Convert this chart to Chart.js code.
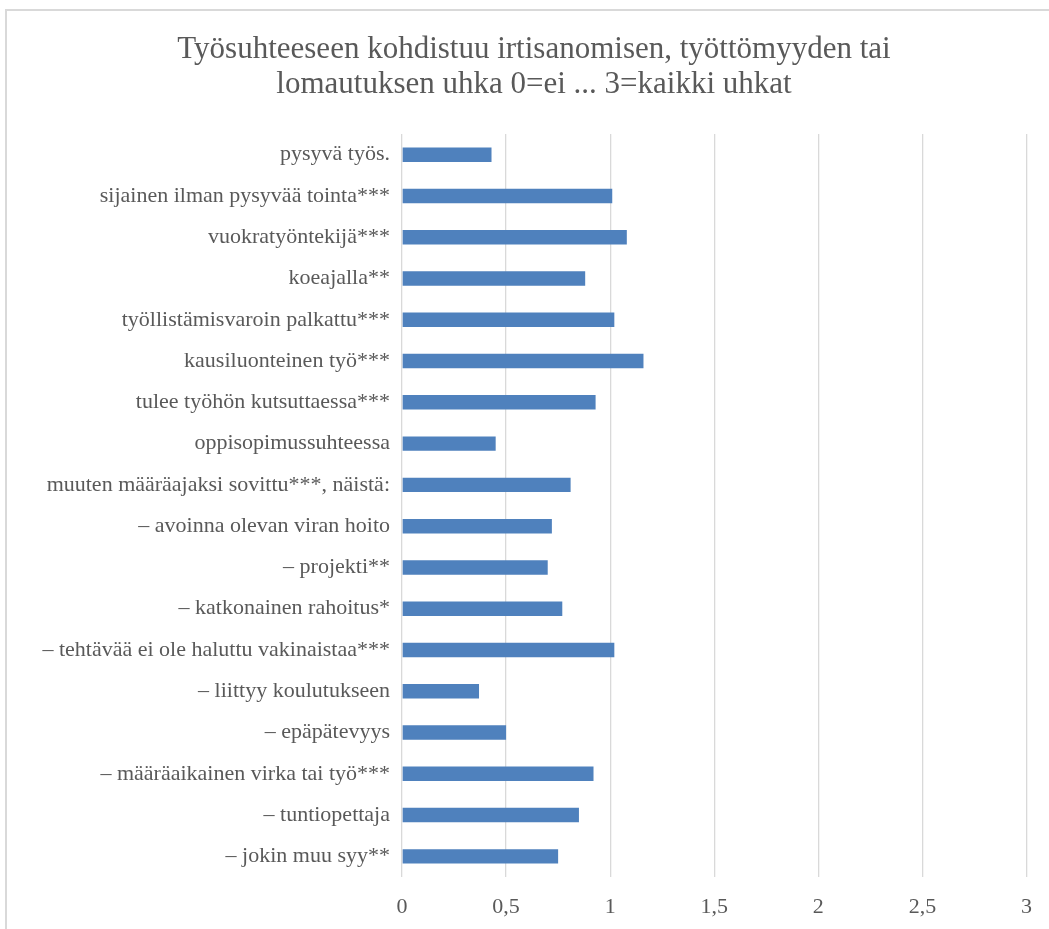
<!DOCTYPE html>
<html>
<head>
<meta charset="utf-8">
<script src="https://cdn.jsdelivr.net/npm/chart.js@4"></script>
<style>
  html, body { margin: 0; padding: 0; background: #fff; }
  #wrap { width: 1049px; height: 929px; position: relative; }
</style>
</head>
<body>
<div id="wrap"><canvas id="barChart" width="1049" height="929"></canvas></div>
<script>
// Työsuhteen tyyppi -> uhkan keskiarvo (0..3)
const categories = [
    'pysyvä työs.',
    'sijainen ilman pysyvää tointa***',
    'vuokratyöntekijä***',
    'koeajalla**',
    'työllistämisvaroin palkattu***',
    'kausiluonteinen työ***',
    'tulee työhön kutsuttaessa***',
    'oppisopimussuhteessa',
    'muuten määräajaksi sovittu***, näistä:',
    '– avoinna olevan viran hoito',
    '– projekti**',
    '– katkonainen rahoitus*',
    '– tehtävää ei ole haluttu vakinaistaa***',
    '– liittyy koulutukseen',
    '– epäpätevyys',
    '– määräaikainen virka tai työ***',
    '– tuntiopettaja',
    '– jokin muu syy**'
];
const threatValues = [0.43, 1.01, 1.08, 0.88, 1.02, 1.16, 0.93, 0.45, 0.81, 0.72, 0.70, 0.77, 1.02, 0.37, 0.50, 0.92, 0.85, 0.75];
const xTicks = [0, 0.5, 1, 1.5, 2, 2.5, 3];

const titleLines = [
    'Työsuhteeseen kohdistuu irtisanomisen, työttömyyden tai',
    'lomautuksen uhka 0=ei ... 3=kaikki uhkat'
];

const textColor = '#595959';
const serif = "'Liberation Serif', 'DejaVu Serif', serif";

// white background + thin frame around the chart area
const framePlugin = {
    id: 'frame',
    beforeDraw(chart) {
        const ctx = chart.ctx;
        ctx.save();
        ctx.fillStyle = '#fff';
        ctx.fillRect(0, 0, chart.width, chart.height);
        ctx.strokeStyle = '#d9d9d9';
        ctx.lineWidth = 2;
        ctx.strokeRect(6, 10, chart.width + 20, chart.height + 20);
        ctx.restore();
    },
    // centre the title a bit to the right, over the framed box
    afterLayout(chart) {
        if (chart.titleBlock) chart.titleBlock.left = 40;
    }
};

function renderBarChart() {
    const ctx = document.getElementById('barChart').getContext('2d');
    new Chart(ctx, {
        type: 'bar',
        data: {
            labels: categories,
            datasets: [{
                data: threatValues,
                backgroundColor: '#4f81bd',
                borderWidth: 0,
                barPercentage: 0.35,
                categoryPercentage: 1
            }]
        },
        plugins: [framePlugin],
        options: {
            indexAxis: 'y',
            responsive: false,
            animation: false,
            layout: { padding: { left: 0, right: 21, top: 0, bottom: 12 } },
            plugins: {
                legend: { display: false },
                tooltip: { enabled: false },
                title: {
                    display: true,
                    text: titleLines,
                    color: textColor,
                    font: { family: serif, size: 31, weight: 'normal', lineHeight: 1.13 },
                    padding: { top: 32, bottom: 32 }
                }
            },
            scales: {
                x: {
                    min: 0,
                    max: 3,
                    afterBuildTicks(scale) {
                        scale.ticks = xTicks.map(v => ({ value: v }));
                    },
                    afterFit(scale) { scale.height = 40; },
                    grid: { color: '#d9d9d9', lineWidth: 1.3, drawTicks: false },
                    border: { display: false },
                    ticks: {
                        color: textColor,
                        padding: 17,
                        font: { family: serif, size: 22 },
                        callback: v => String(v).replace('.', ',')
                    }
                },
                y: {
                    afterFit(scale) { scale.width = 402; },
                    grid: { display: false, drawTicks: false },
                    border: { display: false },
                    ticks: {
                        color: textColor,
                        padding: 12,
                        autoSkip: false,
                        font: { family: serif, size: 22 }
                    }
                }
            }
        }
    });
}

renderBarChart();
</script>
</body>
</html>
